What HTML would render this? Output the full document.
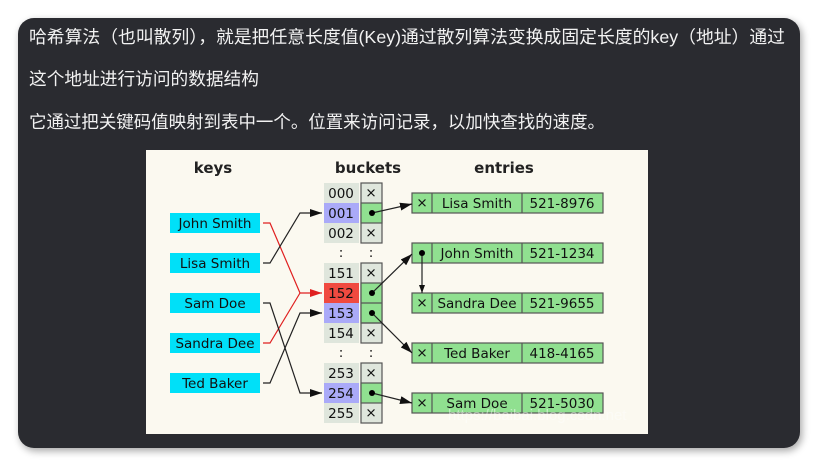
<!DOCTYPE html>
<html><head><meta charset="utf-8"><style>
html,body{margin:0;padding:0;background:#fff;width:818px;height:466px;overflow:hidden}
</style></head><body>
<svg width="818" height="466" viewBox="0 0 818 466" xmlns="http://www.w3.org/2000/svg">
<defs>
<filter id="sh" x="-5%" y="-5%" width="110%" height="110%"><feGaussianBlur stdDeviation="4"/></filter>
<marker id="ab" markerWidth="8" markerHeight="6" refX="8" refY="3" orient="auto" markerUnits="userSpaceOnUse"><path d="M0,0 L8,3 L0,6 z" fill="#111"/></marker>
<marker id="ar" markerWidth="12" markerHeight="8" refX="12" refY="4" orient="auto" markerUnits="userSpaceOnUse"><path d="M0,0 L12,4 L0,8 z" fill="#e02020"/></marker>
<marker id="ak" markerWidth="12" markerHeight="8" refX="12" refY="4" orient="auto" markerUnits="userSpaceOnUse"><path d="M0,0 L12,4 L0,8 z" fill="#111"/></marker>
</defs>
<rect x="20" y="21" width="782" height="430" rx="16" fill="#000" opacity="0.35" filter="url(#sh)"/>
<rect x="18" y="18" width="782" height="430" rx="16" fill="#2a2b30"/>
<g font-family="Liberation Sans, Noto Sans CJK SC, sans-serif" font-size="17.5" fill="#f2f2f2">
<text x="29" y="43" textLength="756" lengthAdjust="spacingAndGlyphs">哈希算法（也叫散列），就是把任意长度值(Key)通过散列算法变换成固定长度的key（地址）通过</text>
<text x="29" y="85" textLength="230" lengthAdjust="spacingAndGlyphs">这个地址进行访问的数据结构</text>
<text x="29" y="128" textLength="576" lengthAdjust="spacingAndGlyphs">它通过把关键码值映射到表中一个。位置来访问记录，以加快查找的速度。</text>
</g>
<rect x="146" y="150" width="502" height="284" fill="#fbf9f0"/>
<g font-family="DejaVu Sans, Liberation Sans, sans-serif" font-weight="bold" font-size="15" fill="#222" text-anchor="middle">
<text x="213" y="173">keys</text><text x="368" y="173">buckets</text><text x="504" y="173">entries</text>
</g>
<g font-family="DejaVu Sans, Liberation Sans, sans-serif" font-size="13.5" fill="#111" text-anchor="middle">
<g fill="#00e0f8"><rect x="170" y="213" width="90" height="20"/><rect x="170" y="253" width="90" height="20"/><rect x="170" y="293" width="90" height="20"/><rect x="170" y="333" width="90" height="20"/><rect x="170" y="373" width="90" height="20"/></g>
<text x="215" y="228">John Smith</text><text x="215" y="268">Lisa Smith</text><text x="215" y="308">Sam Doe</text><text x="215" y="348">Sandra Dee</text><text x="215" y="388">Ted Baker</text>
<g fill="#dfe6dc"><rect x="324" y="183" width="35" height="20"/><rect x="324" y="223" width="35" height="20"/><rect x="324" y="263" width="35" height="20"/><rect x="324" y="323" width="35" height="20"/><rect x="324" y="363" width="35" height="20"/><rect x="324" y="403" width="35" height="20"/></g>
<g fill="#aaaaf8"><rect x="324" y="203" width="35" height="20"/><rect x="324" y="303" width="35" height="20"/><rect x="324" y="383" width="35" height="20"/></g>
<rect x="324" y="283" width="35" height="20" fill="#f04a40"/>
<text x="341" y="198">000</text><text x="341" y="218">001</text><text x="341" y="238">002</text><text x="341" y="257">:</text><text x="371" y="257">:</text>
<text x="341" y="278">151</text><text x="341" y="298">152</text><text x="341" y="318">153</text><text x="341" y="338">154</text><text x="341" y="357">:</text><text x="371" y="357">:</text>
<text x="341" y="378">253</text><text x="341" y="398">254</text><text x="341" y="418">255</text>
<g stroke="#555" stroke-width="1.2">
<rect x="361" y="183" width="21" height="60" fill="#dfe6dc"/><rect x="361" y="203" width="21" height="20" fill="#90e090"/>
<rect x="361" y="263" width="21" height="80" fill="#dfe6dc"/><rect x="361" y="283" width="21" height="40" fill="#90e090"/><line x1="361" y1="303" x2="382" y2="303"/><line x1="361" y1="323" x2="382" y2="323"/>
<rect x="361" y="363" width="21" height="60" fill="#dfe6dc"/><rect x="361" y="383" width="21" height="20" fill="#90e090"/>
</g>
<text x="371" y="197">×</text><text x="371" y="237">×</text><text x="371" y="277">×</text><text x="371" y="337">×</text><text x="371" y="377">×</text><text x="371" y="417">×</text>
<g stroke="#555" stroke-width="1.2" fill="#90e090">
<rect x="412" y="193" width="191" height="20"/><rect x="412" y="243" width="191" height="20"/><rect x="412" y="293" width="191" height="20"/><rect x="412" y="343" width="191" height="20"/><rect x="412" y="393" width="191" height="20"/>
<path d="M432 193v20M522 193v20M432 243v20M522 243v20M432 293v20M522 293v20M432 343v20M522 343v20M432 393v20M522 393v20"/>
</g>
<text x="422" y="207">×</text><text x="422" y="307">×</text><text x="422" y="357">×</text><text x="422" y="407">×</text>
<text x="477" y="208">Lisa Smith</text><text x="562" y="208">521-8976</text>
<text x="477" y="258">John Smith</text><text x="562" y="258">521-1234</text>
<text x="477" y="308">Sandra Dee</text><text x="562" y="308">521-9655</text>
<text x="477" y="358">Ted Baker</text><text x="562" y="358">418-4165</text>
<text x="477" y="408">Sam Doe</text><text x="562" y="408">521-5030</text>
</g>
<g fill="none" stroke-width="1.2">
<path d="M263 223H270L300 293H322" stroke="#e02020" marker-end="url(#ar)"/>
<path d="M263 343H270L300 293" stroke="#e02020"/>
<path d="M263 263H270L300 213H322" stroke="#222" marker-end="url(#ak)"/>
<path d="M263 383H270L300 313H322" stroke="#222" marker-end="url(#ak)"/>
<path d="M263 303H270L300 393H322" stroke="#222" marker-end="url(#ak)"/>
<path d="M372 213L412 204" stroke="#222" marker-end="url(#ak)"/>
<path d="M372 293L412 254" stroke="#222" marker-end="url(#ak)"/>
<path d="M372 313L412 353" stroke="#222" marker-end="url(#ak)"/>
<path d="M372 393L412 403" stroke="#222" marker-end="url(#ak)"/>
<path d="M422 253V293" stroke="#222" marker-end="url(#ab)"/>
</g>
<g fill="#000"><circle cx="372" cy="213" r="3"/><circle cx="372" cy="293" r="3"/><circle cx="372" cy="313" r="3"/><circle cx="372" cy="393" r="3"/><circle cx="422" cy="253" r="3"/></g>
<text x="448" y="420" font-family="Liberation Sans, sans-serif" font-size="15" fill="#fff" opacity="0.45">https://baibai.blog.csdn.net</text>
</svg>
</body></html>
